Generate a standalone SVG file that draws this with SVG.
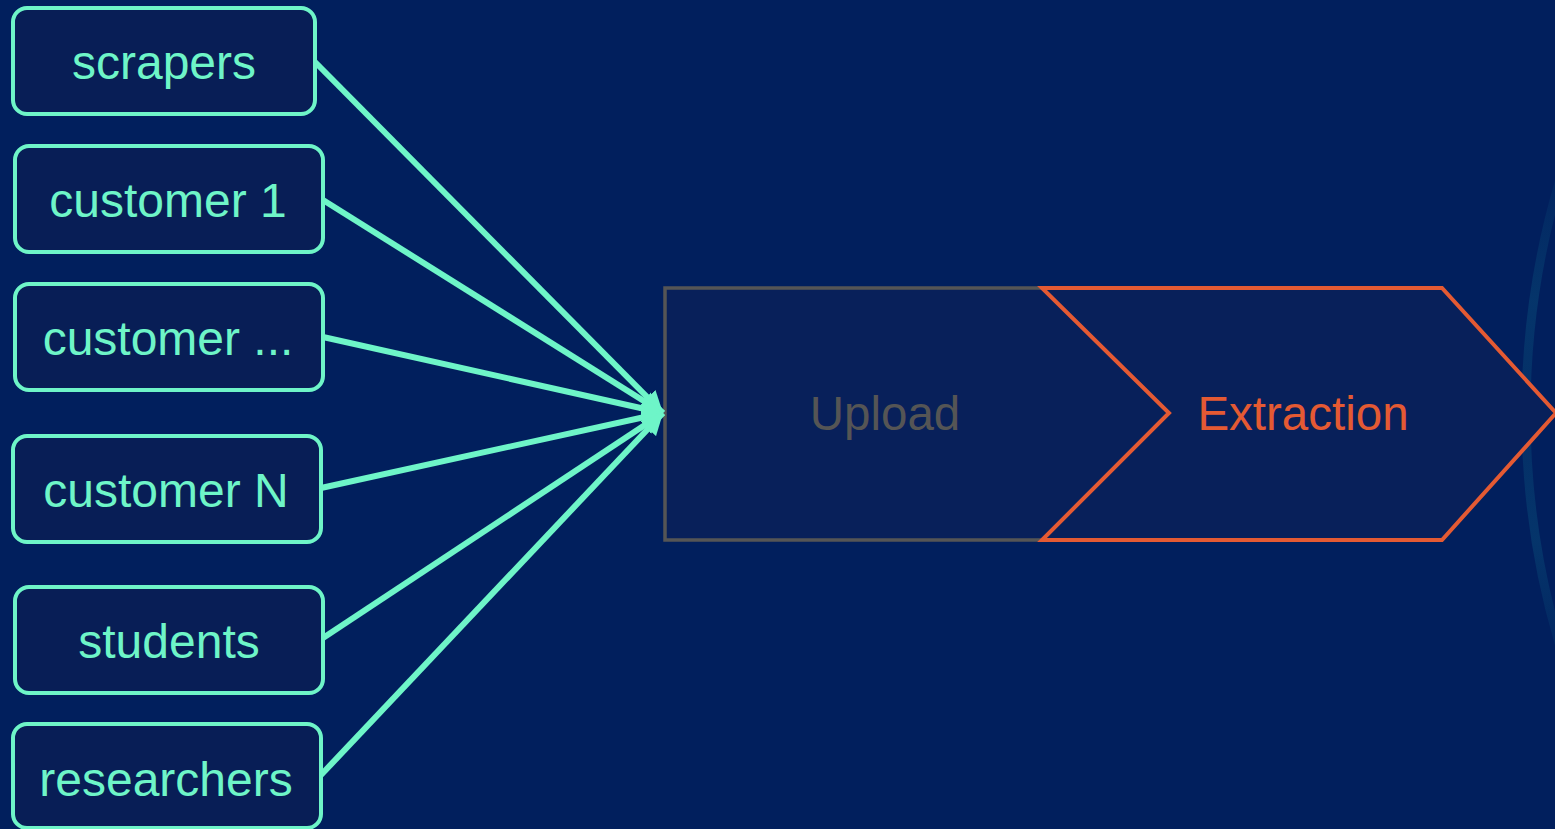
<svg xmlns="http://www.w3.org/2000/svg" width="1555" height="829" viewBox="0 0 1555 829">
<defs>
<style>
.node rect{fill:#081E56;stroke:#6EF5C8;stroke-width:4}
.node text{fill:#6EF5C8;font-family:"Liberation Sans",Arial,sans-serif;font-size:48px;text-anchor:middle}
.edge{stroke:#6EF5C8;stroke-width:6;fill:none;marker-end:url(#ah)}
.stage text{font-family:"Liberation Sans",Arial,sans-serif;font-size:47.5px;text-anchor:middle}
</style>
<marker id="ah" markerWidth="3.6" markerHeight="3.6" refX="10" refY="5" viewBox="0 0 10 10" orient="auto" markerUnits="strokeWidth">
<path d="M0,0 L10,5 L0,10 z" fill="#6EF5C8"/>
</marker>
<linearGradient id="arcfade" x1="0" y1="120" x2="0" y2="720" gradientUnits="userSpaceOnUse">
<stop offset="0" stop-color="#063A6E" stop-opacity="0"/>
<stop offset="0.3" stop-color="#063A6E" stop-opacity="0.8"/>
<stop offset="0.5" stop-color="#063A6E" stop-opacity="0.6"/>
<stop offset="0.7" stop-color="#063A6E" stop-opacity="0.8"/>
<stop offset="1" stop-color="#063A6E" stop-opacity="0"/>
</linearGradient>
</defs>
<rect x="0" y="0" width="1555" height="829" fill="#011F5D"/>
<circle cx="2341" cy="413" r="815" fill="none" stroke="url(#arcfade)" stroke-width="9"/>

<g id="stages" class="stage">
<g id="upload">
<polygon points="665,288 1042,288 1169,413 1042,540 665,540" fill="#08205A"/>
<polyline points="1042,288 665,288 665,540 1042,540" fill="none" stroke="#555555" stroke-width="3.5"/>
<text x="885" y="430" fill="#555555">Upload</text>
</g>
<g id="extraction">
<polygon points="1042,288 1442,288 1556,413 1442,540 1042,540 1169,413" fill="#08205A" stroke="#E45A33" stroke-width="4"/>
<text x="1303" y="430" fill="#E45A33">Extraction</text>
</g>
</g>

<g id="connectors">
<line class="edge" x1="315" y1="62" x2="663" y2="413"/>
<line class="edge" x1="323" y1="200" x2="663" y2="413"/>
<line class="edge" x1="323" y1="337" x2="663" y2="413"/>
<line class="edge" x1="321" y1="488" x2="663" y2="413"/>
<line class="edge" x1="323" y1="638" x2="663" y2="413"/>
<line class="edge" x1="321" y1="775" x2="663" y2="413"/>
</g>

<g id="scrapers" class="node"><rect x="13" y="8" width="302" height="106" rx="14"/><text x="164" y="79">scrapers</text></g>
<g id="customer1" class="node"><rect x="15" y="146" width="308" height="106" rx="14"/><text x="168" y="217">customer 1</text></g>
<g id="customerdots" class="node"><rect x="15" y="284" width="308" height="106" rx="14"/><text x="168" y="355">customer ...</text></g>
<g id="customerN" class="node"><rect x="13" y="436" width="308" height="106" rx="14"/><text x="166" y="507">customer N</text></g>
<g id="students" class="node"><rect x="15" y="587" width="308" height="106" rx="14"/><text x="169" y="658">students</text></g>
<g id="researchers" class="node"><rect x="13" y="724" width="308" height="104" rx="14"/><text x="166" y="796">researchers</text></g>
</svg>
